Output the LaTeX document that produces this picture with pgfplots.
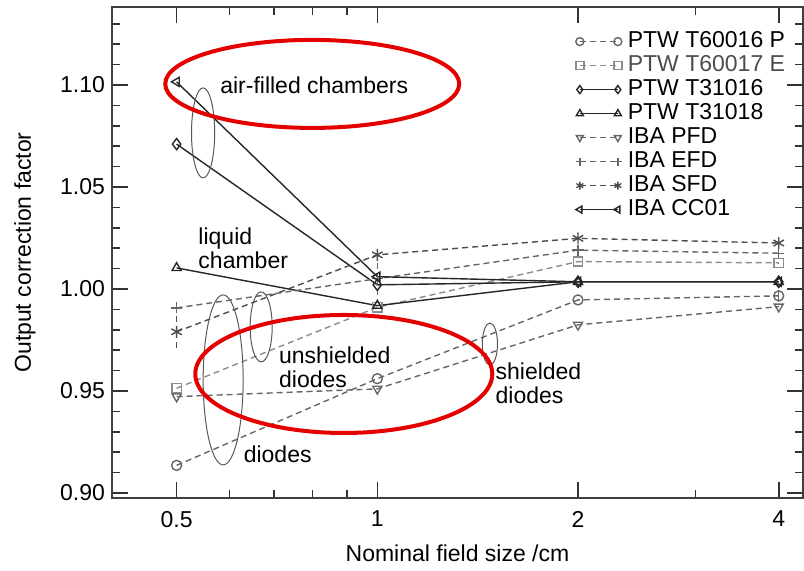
\documentclass[border=0pt]{standalone}
\usepackage{fontspec}
\setmainfont{Liberation Sans}
\usepackage{pgfplots}
\pgfplotsset{compat=1.18}
\usetikzlibrary{plotmarks}
\begin{document}
\begin{tikzpicture}[font=\fontsize{11.5}{12}\selectfont]
\begin{axis}[
  scale only axis, width=345.5pt, height=245.5pt,
  at={(0,0)}, anchor=south west,
  xmin=-1.3219, xmax=2.121, ymin=0.8975, ymax=1.1382,
  xtick={-1,0,1,2}, xticklabels={0.5,1,2,4},
  minor xtick={-0.737,-0.515,-0.322,-0.152,1.585},
  ytick={0.90,0.95,1.00,1.05,1.10}, yticklabels={0.90,0.95,1.00,1.05,1.10},
  minor ytick={0.91,0.92,0.93,0.94,0.96,0.97,0.98,0.99,1.01,1.02,1.03,1.04,1.06,1.07,1.08,1.09,1.11,1.12,1.13},
  tick align=inside,
  major tick length=8pt, minor tick length=4pt,
  every tick/.style={black!80, line width=0.8pt},
  axis line style={black!75, line width=1pt},
  xlabel={Nominal field size /cm},
  ylabel={Output correction factor},
  xlabel style={at={(axis description cs:0.5,-0.112)}, anchor=center},
  ylabel style={at={(axis description cs:-0.126,0.5)}, anchor=center},
  xticklabel style={yshift=-3pt},
  legend style={at={(axis description cs:0.662,0.963)}, anchor=north west, draw=none, fill=none,
    nodes={text height=8.5pt, text depth=2.5pt, inner sep=0.5pt, anchor=west}, row sep=0pt,
    /tikz/every odd column/.append style={column sep=2.5pt}},
  legend cell align=left,
  legend image code/.code={\draw[mark repeat=2,mark phase=1,#1,mark size=2pt] plot coordinates {(0pt,0pt)(9.5pt,0pt)(19pt,0pt)};},
  error bars/error mark=none,
]
% x positions: log2 of nominal field size (0.5, 1, 2, 4 cm)
% PTW T60016 P
\addplot[black!60, line width=0.7pt, dash pattern=on 3pt off 2pt, mark=o, mark size=2.5pt, mark options={solid},
  error bars/.cd, y dir=both, y explicit]
  coordinates {(-1,0.9135) (0,0.956) (1,0.9946) (2,0.9966) +- (0,0.005)};
\addlegendentry{PTW T60016 P}
% PTW T60017 E
\addplot[black!45, line width=0.7pt, dash pattern=on 3pt off 2pt, mark=square, mark size=2.3pt, mark options={solid}]
  coordinates {(-1,0.9513) (0,0.991) (1,1.0134) (2,1.0128)};
\addlegendentry{\textcolor{black!70}{PTW T60017 E}}
% PTW T31016
\addplot[black!85, line width=0.7pt, mark=diamond, mark size=2.8pt, mark options={solid}]
  coordinates {(-1,1.071) (0,1.002) (1,1.0035) (2,1.0035)};
\addlegendentry{PTW T31016}
% PTW T31018
\addplot[black!85, line width=0.7pt, mark=triangle, mark size=2.6pt, mark options={solid}]
  coordinates {(-1,1.0103) (0,0.9918) (1,1.0035) (2,1.0035)};
\addlegendentry{PTW T31018}
% IBA PFD
\addplot[black!60, line width=0.7pt, dash pattern=on 3pt off 2pt, mark=triangle, mark size=2.6pt, mark options={solid, rotate=180}]
  coordinates {(-1,0.9472) (0,0.951) (1,0.9824) (2,0.9913)};
\addlegendentry{IBA PFD}
% IBA EFD
\addplot[black!60, line width=0.7pt, dash pattern=on 3pt off 2pt, mark=+, mark size=2.8pt, mark options={solid},
  error bars/.cd, y dir=both, y explicit]
  coordinates {(-1,0.9907) (0,1.005) +- (0,0.012) (1,1.019) (2,1.0175) +- (0,0.005)};
\addlegendentry{IBA EFD}
% IBA SFD
\addplot[black!70, line width=0.7pt, dash pattern=on 3pt off 2pt, mark=asterisk, mark size=3pt, mark options={solid},
  error bars/.cd, y dir=both, y explicit]
  coordinates {(-1,0.979) += (0,0.014) -= (0,0.0097) (0,1.0167) (1,1.0248) (2,1.0225)};
\addlegendentry{IBA SFD}
% IBA CC01
\addplot[black!85, line width=0.7pt, mark=triangle, mark size=2.6pt, mark options={solid, rotate=90}]
  coordinates {(-1,1.1015) (0,1.006) (1,1.0035) (2,1.0035)};
\addlegendentry{IBA CC01}

% annotations
\node at (axis cs:-0.3142,1.10) {air-filled chambers};
\draw[black!65, line width=0.5pt] (axis cs:-0.868,1.0765) ellipse [x radius=5.8pt, y radius=22.5pt];
\node[align=left] at (axis cs:-0.668,1.0199) {liquid\\chamber};
\draw[black!65, line width=0.5pt] (axis cs:-0.768,0.9554) ellipse [x radius=10pt, y radius=42.5pt];
\node at (axis cs:-0.4963,0.9191) {diodes};
\draw[black!65, line width=0.5pt] (axis cs:-0.5786,0.9814) ellipse [x radius=5.5pt, y radius=17.5pt];
\node[align=left] at (axis cs:-0.212,0.9615) {unshielded\\diodes};
\node[align=left] at (axis cs:0.803,0.9537) {shielded\\diodes};
\draw[black!65, line width=0.5pt] (axis cs:0.561,0.973) ellipse [x radius=3.8pt, y radius=10.5pt];
\draw[red!90!black, line width=2pt] (axis cs:-0.3242,1.1005) ellipse [x radius=73.5pt, y radius=22pt];
\draw[red!90!black, line width=2pt] (axis cs:-0.167,0.9583) ellipse [x radius=74.25pt, y radius=29.5pt];
\end{axis}
\pgfresetboundingbox
\path[use as bounding box] (-56pt,-36pt) rectangle (346pt,249pt);
\end{tikzpicture}
\end{document}
